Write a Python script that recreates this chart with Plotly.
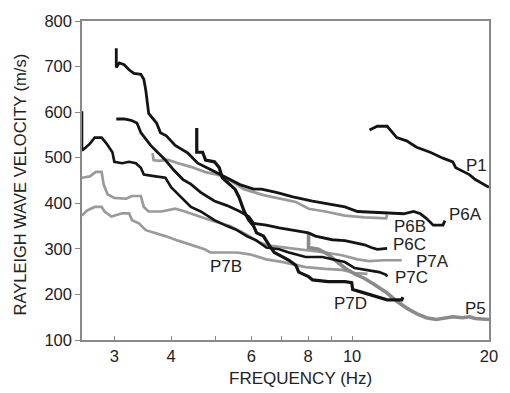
import plotly.graph_objects as go
import math

# ---- data (frequency Hz, Rayleigh wave velocity m/s) ----
p1_f = [10.92, 11.36, 11.94, 12.24, 12.54, 13.18, 13.86, 14.85, 15.84, 16.65, 16.9, 18.11, 18.66, 20.0]
p1_v = [561, 569, 569, 555, 544, 537, 523, 512, 499, 491, 478, 463, 452, 435]

p6a_f = [3.03, 3.03, 3.076, 3.153, 3.232, 3.313, 3.431, 3.483, 3.518, 3.57, 3.715, 3.789, 3.904, 4.083,
         4.355, 4.577, 4.882, 5.234, 5.667, 6.073, 6.318, 6.81, 7.41, 8.183, 8.86, 9.641, 10.28, 11.19,
         12.99, 13.65, 14.13, 14.56, 15.08, 15.84, 16.0]
p6a_v = [740, 698, 708, 704, 693, 685, 683, 672, 648, 597, 576, 555, 548, 527,
         510, 488, 474, 459, 441, 431, 431, 424, 414, 405, 399, 392, 382, 380,
         377, 382, 377, 367, 352, 352, 362]

p6b_f = [3.641, 3.659, 3.752, 3.944, 4.144, 4.42, 4.737, 5.055, 5.311, 5.78, 6.383, 6.912, 7.52, 8.02,
         8.729, 9.641, 10.65, 11.88, 11.94]
p6b_v = [510, 495, 493, 495, 488, 480, 469, 463, 454, 431, 418, 410, 403, 388,
         382, 373, 369, 367, 375]

p6c_f = [3.03, 3.153, 3.265, 3.364, 3.431, 3.518, 3.606, 3.752, 3.885, 4.043, 4.248, 4.42, 4.645, 4.98,
         5.311, 5.667, 5.925, 6.073, 6.479, 6.912, 7.52, 8.02, 8.306, 9.036, 9.641, 10.13, 10.65, 11.02,
         11.36, 11.94]
p6c_v = [585, 585, 582, 576, 555, 542, 527, 510, 495, 474, 452, 442, 424, 405,
         395, 382, 371, 356, 352, 346, 339, 335, 328, 320, 318, 314, 309, 303,
         299, 301]

p7a_f = [2.547, 2.651, 2.731, 2.813, 2.841, 2.898, 3.0, 3.185, 3.281, 3.431, 3.483, 3.57, 3.807, 4.083,
         4.29, 4.42, 4.737, 4.98, 5.391, 5.866, 6.258, 6.577, 7.157, 7.633, 8.183, 8.729, 9.498, 10.28,
         10.91, 11.76, 12.86]
p7a_v = [456, 459, 469, 469, 442, 420, 412, 410, 416, 416, 392, 382, 382, 388,
         382, 378, 367, 360, 350, 331, 314, 307, 303, 299, 296, 292, 286, 277,
         273, 275, 275]

p7b_f = [2.547, 2.612, 2.716, 2.813, 2.855, 2.956, 3.122, 3.232, 3.281, 3.397, 3.518, 3.697, 3.885, 4.144,
         4.42, 4.737, 4.882, 5.311, 5.582, 5.955, 6.479, 7.05, 7.52, 7.903, 8.729, 9.498, 10.13, 10.81]
p7b_v = [373, 384, 392, 392, 382, 371, 378, 378, 363, 356, 341, 335, 328, 318,
         309, 299, 292, 292, 292, 288, 277, 271, 264, 260, 256, 254, 247, 245]

p7c_f = [2.547, 2.547, 2.585, 2.651, 2.716, 2.813, 2.884, 2.971, 3.0, 3.122, 3.232, 3.346, 3.431, 3.483,
         3.697, 3.885, 4.003, 4.185, 4.42, 4.645, 4.98, 5.311, 5.582, 5.866, 6.166, 6.479, 6.912, 7.263,
         7.903, 8.6, 9.036, 9.641, 10.13, 10.81, 11.47, 11.88, 11.94]
p7c_v = [602, 516, 521, 531, 544, 544, 531, 512, 491, 488, 491, 488, 478, 463,
         459, 456, 435, 416, 392, 382, 363, 350, 341, 328, 318, 303, 299, 292,
         282, 282, 277, 271, 258, 254, 249, 243, 239]

p7d_f = [4.554, 4.554, 4.692, 4.762, 4.98, 5.105, 5.182, 5.311, 5.527, 5.638, 5.78, 5.925, 6.073, 6.166,
         6.383, 6.577, 6.743, 7.05, 7.263, 7.52, 7.633, 8.02, 8.183, 8.86, 9.641, 9.98, 10.03, 10.49,
         11.19, 11.94, 12.86, 12.93]
p7d_v = [565, 512, 512, 495, 491, 478, 456, 446, 431, 414, 384, 363, 350, 335,
         328, 307, 292, 282, 275, 264, 249, 239, 232, 228, 228, 226, 211, 205,
         196, 188, 188, 194]

p5_f = [8.02, 8.02, 8.43, 8.86, 9.174, 9.641, 10.13, 10.65, 11.19, 11.94, 12.54, 13.18, 13.86, 14.56,
        15.3, 16.08, 16.65, 17.5, 18.11, 18.66, 20.0]
p5_v = [333, 303, 299, 288, 275, 258, 245, 235, 222, 203, 185, 170, 158, 149,
        145, 149, 151, 149, 151, 147, 145]

label_text = ["P1", "P6A", "P6B", "P6C", "P7A", "P7C", "P7D", "P5", "P7B"]
label_f = [18.75, 17.77, 13.38, 13.38, 15.0, 13.51, 9.93, 18.66, 5.285]
label_v = [484, 375, 350, 309, 273, 237, 181, 170, 262]

x_tickvals = [3, 4, 5, 6, 7, 8, 9, 10, 20]
x_ticktext = ["3", "4", "", "6", "", "8", "", "10", "20"]
y_tickvals = [100, 200, 300, 400, 500, 600, 700, 800]

BLACK = "#141414"
GRAY = "#9a9a9a"
series = [
    (p6b_f, p6b_v, GRAY, 2.7),
    (p7a_f, p7a_v, GRAY, 2.7),
    (p7b_f, p7b_v, GRAY, 2.7),
    (p5_f, p5_v, "#8a8a8a", 3.6),
    (p1_f, p1_v, BLACK, 2.8),
    (p6a_f, p6a_v, BLACK, 2.8),
    (p6c_f, p6c_v, BLACK, 2.8),
    (p7c_f, p7c_v, BLACK, 2.6),
    (p7d_f, p7d_v, BLACK, 3.2),
]

fig = go.Figure()
for fx, vy, col, w in series:
    fig.add_trace(go.Scatter(x=fx, y=vy, mode="lines",
                             line=dict(color=col, width=w), showlegend=False))

FONT = "Arial, Liberation Sans, sans-serif"
for t, fx, vy in zip(label_text, label_f, label_v):
    fig.add_annotation(x=math.log10(fx), y=vy, text=t, showarrow=False,
                       font=dict(family=FONT, size=17, color="#222"),
                       xanchor="center", yanchor="middle")

fig.add_annotation(xref="paper", yref="paper", x=0.537, y=-0.122, text="FREQUENCY (Hz)",
                   showarrow=False, font=dict(family=FONT, size=17, color="#222"),
                   xanchor="center", yanchor="middle")
fig.add_annotation(xref="paper", yref="paper", x=-0.152, y=0.488,
                   text="RAYLEIGH WAVE VELOCITY (m/s)", textangle=-90,
                   showarrow=False, font=dict(family=FONT, size=16.5, color="#222"),
                   xanchor="center", yanchor="middle")

fig.update_xaxes(type="log", range=[math.log10(2.547), math.log10(20)],
                 tickvals=x_tickvals, ticktext=x_ticktext,
                 ticks="inside", ticklen=4, tickcolor="#888",
                 showline=True, linecolor="#888", linewidth=1.5, mirror=True,
                 showgrid=False, zeroline=False,
                 tickfont=dict(family=FONT, size=16.5, color="#222"))
fig.update_yaxes(range=[100, 800], tickvals=y_tickvals,
                 ticks="outside", ticklen=5, tickcolor="#888",
                 showline=True, linecolor="#888", linewidth=1.5, mirror=True,
                 showgrid=False, zeroline=False,
                 tickfont=dict(family=FONT, size=16.5, color="#222"))

fig.update_layout(width=510, height=393,
                  margin=dict(l=82, r=13, t=12, b=53),
                  paper_bgcolor="white", plot_bgcolor="white")

fig.write_html("out.html", config={"displayModeBar": False},
               post_script="document.body.style.margin='0';document.body.style.overflow='hidden';")
